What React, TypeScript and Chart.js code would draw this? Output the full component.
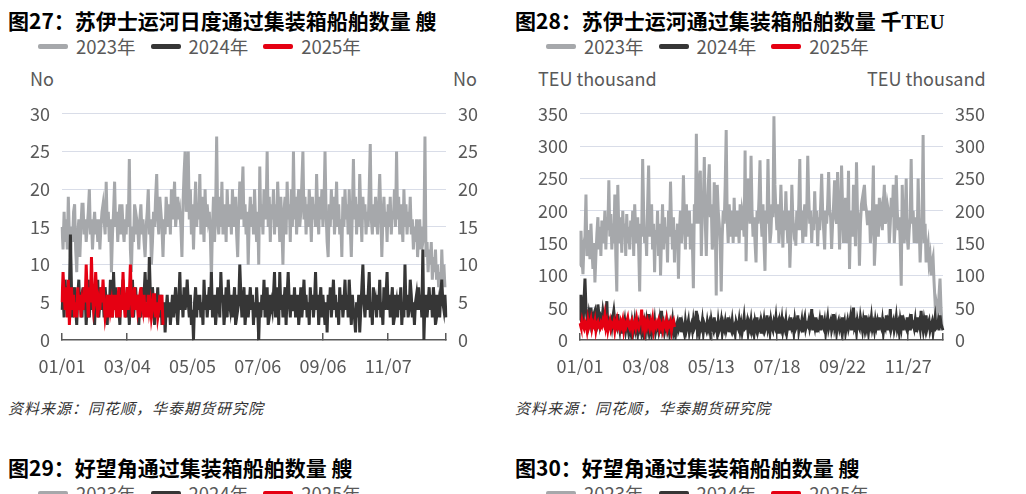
import { useEffect, useRef } from "react"
import { Chart, registerables } from "chart.js"

Chart.register(...registerables)

const FONT = "'Noto Sans CJK SC', 'Noto Sans', sans-serif"
const TEXT = "#595959"
const GRID = "#d9dde8"
const GRAY = "#a6a8ab"
const DARK = "#363636"
const RED = "#e50012"

const DAYS = 366
const dayIndex = Array.from({ length: DAYS }, (_, i) => i)

// 图27 苏伊士运河日度通过集装箱船舶数量（艘）
const shipTicks = ["01/01", "03/04", "05/05", "07/06", "09/06", "11/07"]
const SHIP_TICK_STEP = 62

const ships2023 = [
  15, 12, 17, 13, 16, 12, 19, 14, 11, 15, 13, 17, 18, 12, 9, 14, 16, 11, 15, 18,
  18, 14, 16, 13, 15, 17, 20, 14, 16, 12, 15, 17, 14, 16, 13, 16, 12, 15, 17, 18,
  16, 14, 21, 15, 17, 13, 16, 9, 14, 17, 21, 15, 17, 13, 16, 18, 14, 18, 15, 13,
  16, 14, 18, 15, 24, 12, 9, 15, 13, 18, 14, 16, 15, 12, 16, 18, 14, 16, 13, 11,
  15, 17, 20, 14, 16, 10, 13, 17, 15, 19, 22, 16, 14, 19, 17, 15, 11, 16, 14, 19,
  17, 15, 18, 14, 20, 16, 18, 21, 15, 17, 19, 16, 17, 15, 11, 18, 22, 25, 17, 19,
  25, 16, 20, 14, 18, 12, 17, 21, 15, 18, 16, 22, 14, 19, 17, 13, 20, 15, 18, 16,
  17, 14, 8, 15, 19, 13, 17, 27, 16, 14, 19, 15, 21, 14, 17, 18, 13, 20, 16, 15,
  18, 14, 20, 16, 15, 19, 14, 11, 17, 21, 16, 19, 23, 15, 18, 14, 17, 10, 16, 19,
  15, 18, 14, 20, 16, 13, 17, 10, 23, 15, 18, 14, 20, 16, 17, 25, 15, 19, 13, 18,
  16, 20, 14, 18, 15, 21, 17, 13, 19, 15, 10, 17, 19, 14, 21, 16, 18, 13, 20, 15,
  25, 16, 19, 14, 18, 20, 15, 17, 21, 25, 16, 19, 14, 18, 15, 20, 17, 13, 19, 16,
  18, 15, 22, 17, 14, 19, 16, 20, 15, 18, 25, 17, 13, 11, 18, 15, 20, 16, 19, 14,
  17, 21, 15, 18, 14, 16, 11, 19, 15, 20, 16, 18, 14, 20, 15, 11, 17, 24, 16, 19,
  14, 18, 15, 22, 17, 13, 19, 16, 18, 14, 17, 15, 20, 26, 16, 14, 18, 15, 19, 16,
  14, 18, 22, 17, 11, 16, 19, 15, 17, 13, 18, 15, 19, 14, 17, 16, 20, 15, 25, 16,
  19, 14, 18, 16, 13, 20, 15, 18, 14, 17, 15, 19, 14, 16, 12, 15, 13, 16, 11, 14,
  16, 12, 15, 13, 14, 27, 11, 13, 9, 12, 10, 13, 8, 11, 9, 12, 8, 10, 7, 9,
  6, 12, 8, 10, 7,
]

const ships2024 = [
  4, 6, 3, 8, 5, 7, 4, 6, 14, 7, 3, 5, 7, 4, 2, 6, 8, 4, 5, 3,
  7, 4, 6, 2, 5, 8, 3, 6, 4, 7, 5, 2, 6, 4, 8, 3, 5, 7, 4, 6,
  3, 7, 5, 2, 6, 4, 8, 5, 3, 9, 5, 7, 3, 6, 4, 2, 7, 5, 8, 4,
  6, 3, 7, 5, 2, 6, 4, 8, 3, 5, 7, 4, 6, 2, 5, 3, 7, 4, 6, 9,
  5, 8, 4, 11, 6, 3, 7, 5, 2, 6, 4, 7, 3, 5, 6, 2, 4, 5, 1, 4,
  6, 3, 5, 2, 4, 6, 3, 5, 7, 4, 2, 5, 9, 4, 6, 3, 7, 4, 5, 8,
  5, 3, 6, 2, 4, 0, 5, 7, 3, 6, 4, 6, 3, 5, 2, 8, 4, 6, 3, 5,
  7, 4, 9, 3, 5, 6, 2, 4, 7, 5, 3, 9, 5, 6, 2, 4, 7, 3, 8, 5,
  4, 6, 3, 5, 7, 2, 6, 4, 5, 10, 6, 3, 5, 7, 2, 4, 6, 3, 5, 7,
  4, 6, 2, 5, 3, 7, 4, 0, 5, 3, 6, 4, 8, 3, 5, 7, 2, 6, 4, 5,
  4, 6, 9, 3, 5, 7, 2, 9, 4, 6, 3, 5, 7, 2, 6, 9, 5, 3, 6, 4,
  4, 7, 3, 5, 6, 2, 4, 7, 3, 5, 8, 4, 6, 3, 5, 2, 7, 4, 6, 3,
  5, 9, 4, 6, 2, 5, 7, 3, 6, 4, 2, 5, 1, 6, 4, 7, 3, 5, 8, 4,
  6, 3, 5, 2, 7, 4, 6, 3, 5, 8, 4, 6, 3, 8, 5, 2, 6, 4, 3, 1,
  5, 3, 6, 1, 4, 7, 10, 5, 3, 6, 4, 6, 9, 3, 5, 2, 7, 4, 5, 3,
  6, 4, 8, 3, 5, 2, 7, 4, 6, 9, 4, 6, 3, 5, 7, 2, 6, 4, 5, 3,
  6, 4, 7, 2, 5, 3, 10, 4, 6, 3, 4, 8, 6, 3, 5, 2, 5, 6, 4, 7,
  4, 6, 3, 12, 0, 5, 6, 3, 5, 7, 4, 6, 3, 7, 5, 2, 6, 4, 5, 3,
  6, 8, 5, 4, 6, 3,
]

const ships2025 = [
  5, 9, 6, 4, 7, 3, 8, 2, 5, 7, 4, 6, 3, 5, 3, 7, 4, 6, 3, 5,
  4, 7, 5, 10, 6, 3, 7, 5, 11, 6, 4, 5, 9, 6, 3, 5, 4, 7, 5, 8,
  5, 3, 4, 6, 3, 6, 4, 5, 3, 6, 4, 6, 3, 5, 7, 3, 6, 4, 9, 5,
  3, 5, 7, 4, 6, 10, 5, 3, 6, 7, 4, 6, 4, 5, 3, 7, 5, 4, 6, 3,
  5, 3, 6, 4, 5, 3, 4, 6, 6, 3, 5, 3, 4, 6, 4, 6, 2,
]

// 图28 苏伊士运河通过集装箱船舶数量（千TEU）
const teuTicks = ["01/01", "03/08", "05/13", "07/18", "09/22", "11/27"]
const TEU_TICK_STEP = 66

const teu2023 = [
  115, 169, 125, 102, 150, 160, 225, 130, 145, 170, 125, 180, 140, 110, 150, 89, 130, 165, 190, 140,
  175, 130, 185, 150, 160, 200, 140, 190, 170, 247, 160, 195, 140, 180, 150, 225, 130, 75, 240, 170,
  150, 190, 135, 200, 160, 180, 130, 195, 150, 175, 140, 185, 160, 200, 130, 210, 170, 150, 190, 140,
  75, 180, 160, 280, 200, 150, 170, 130, 210, 270, 160, 190, 210, 140, 180, 105, 170, 150, 200, 130,
  180, 100, 160, 210, 140, 190, 150, 175, 120, 200, 160, 245, 180, 140, 190, 120, 170, 150, 180, 95,
  170, 200, 150, 180, 255, 190, 140, 210, 160, 170, 200, 140, 180, 150, 80, 210, 180, 319, 200, 180,
  250, 262, 130, 200, 210, 283, 180, 130, 200, 240, 272, 190, 210, 140, 160, 244, 180, 69, 240, 200,
  180, 150, 75, 160, 200, 180, 240, 325, 190, 150, 210, 180, 160, 200, 150, 220, 170, 160, 200, 180,
  150, 210, 170, 200, 190, 160, 293, 122, 200, 250, 210, 180, 285, 200, 160, 190, 150, 120, 200, 180,
  220, 278, 190, 160, 210, 150, 107, 200, 180, 280, 200, 150, 166, 210, 190, 346, 240, 200, 170, 210,
  150, 180, 240, 190, 143, 200, 170, 230, 180, 150, 200, 112, 160, 240, 190, 170, 180, 146, 200, 170,
  210, 280, 170, 200, 150, 190, 210, 160, 200, 285, 220, 180, 200, 150, 190, 170, 230, 180, 200, 145,
  190, 170, 210, 257, 200, 170, 140, 200, 180, 210, 260, 200, 190, 141, 180, 210, 247, 190, 180, 260,
  200, 140, 190, 270, 210, 150, 190, 220, 150, 180, 262, 110, 180, 200, 160, 240, 190, 145, 275, 200,
  190, 115, 180, 210, 220, 200, 240, 210, 200, 180, 180, 200, 150, 170, 200, 270, 115, 150, 210, 180,
  160, 220, 190, 200, 170, 210, 240, 180, 190, 210, 200, 150, 180, 220, 190, 240, 150, 180, 255, 200,
  170, 190, 150, 84, 240, 180, 150, 190, 250, 160, 140, 170, 190, 280, 180, 200, 150, 190, 170, 150,
  250, 180, 120, 160, 190, 317, 150, 180, 120, 140, 150, 120, 130, 100, 120, 128, 90, 60, 20, 50,
  40, 70, 95, 50, 20,
]

const teu2024 = [
  30, 70, 45, 20, 60, 95, 50, 35, 25, 40, 30, 50, 35, 20, 40, 45, 30, 25, 55, 40,
  25, 35, 30, 45, 35, 20, 40, 60, 15, 30, 25, 30, 20, 35, 45, 30, 25, 20, 40, 25,
  15, 30, 10, 25, 20, 30, 15, 25, 20, 10, 20, 12, 25, 8, 18, 30, 15, 22, 10, 25,
  18, 28, 12, 20, 8, 25, 15, 30, 20, 40, 15, 25, 10, 22, 18, 30, 12, 20, 25, 15,
  28, 10, 45, 18, 25, 12, 20, 30, 15, 22, 10, 25, 18, 30, 12, 20, 8, 22, 28, 15,
  20, 35, 12, 25, 18, 10, 28, 15, 22, 30, 12, 20, 25, 15, 30, 18, 22, 45, 15, 25,
  10, 22, 18, 30, 12, 25, 20, 15, 28, 18, 25, 12, 30, 20, 15, 35, 18, 22, 10, 28,
  15, 20, 30, 12, 25, 18, 28, 15, 22, 35, 12, 25, 18, 30, 15, 20, 10, 28, 22, 18,
  30, 15, 25, 12, 22, 35, 18, 20, 28, 12, 25, 18, 30, 15, 22, 10, 28, 20, 35, 15,
  22, 28, 12, 25, 18, 30, 15, 20, 38, 18, 25, 12, 30, 20, 15, 28, 22, 35, 18, 25,
  10, 28, 20, 32, 15, 25, 18, 30, 12, 22, 28, 15, 35, 20, 25, 12, 30, 18, 22, 38,
  15, 25, 20, 30, 12, 28, 35, 18, 25, 22, 30, 18, 25, 48, 15, 28, 20, 35, 12, 25,
  20, 30, 15, 38, 22, 18, 28, 12, 25, 35, 18, 25, 30, 15, 22, 40, 20, 28, 12, 25,
  30, 18, 25, 15, 35, 20, 28, 12, 22, 30, 18, 25, 35, 15, 28, 50, 20, 25, 12, 30,
  22, 18, 35, 25, 15, 30, 20, 38, 18, 25, 12, 28, 22, 35, 18, 25, 15, 30, 20, 28,
  15, 35, 22, 18, 30, 12, 25, 20, 38, 15, 28, 22, 48, 18, 25, 30, 15, 22, 35, 18,
  25, 12, 30, 20, 38, 15, 28, 22, 18, 35, 20, 28, 15, 40, 22, 25, 18, 30, 12, 35,
  22, 28, 18, 45, 25, 15, 30, 20, 38, 18, 25, 30, 15, 22, 28, 12, 25, 35, 18, 20,
  28, 15, 38, 25, 20, 15,
]

const teu2025 = [
  26, 20, 30, 22, 18, 28, 24, 15, 30, 20, 25, 32, 18, 26, 22, 30, 15, 24, 28, 20,
  18, 26, 22, 30, 25, 37, 20, 28, 15, 24, 30, 18, 25, 22, 28, 15, 26, 32, 20, 24,
  18, 28, 22, 30, 15, 25, 20, 28, 34, 22, 18, 26, 30, 15, 24, 28, 20, 32, 22, 18,
  25, 30, 47, 22, 28, 15, 26, 20, 30, 24, 18, 28, 22, 32, 15, 25, 28, 20, 24, 30,
  18, 26, 22, 15, 28, 24, 20, 30, 18, 25, 22, 28, 15, 26, 30, 20,
]

const seriesNames = ["2023年", "2024年", "2025年"]
const seriesColors = [GRAY, DARK, RED]

type PanelProps = {
  left: number
  top: number
  width: number
  height: number
  leftAxis: number
  rightAxis: number
  max: number
  step: number
  tickLabels: string[]
  tickStep: number
  series: number[][]
}

function DailyChart(p: PanelProps) {
  const chartRef = useRef<HTMLCanvasElement>(null)
  const chartInstance = useRef<Chart | null>(null)

  useEffect(() => {
    if (!chartRef.current) return
    const ctx = chartRef.current.getContext("2d")
    if (!ctx) return
    if (chartInstance.current) chartInstance.current.destroy()

    const isTick = (i: number) =>
      (i % p.tickStep === 0 && i / p.tickStep < p.tickLabels.length) || i === DAYS - 1
    const tickFont = { family: FONT, size: 18 }

    // drawn last = on top, so 2025 goes first
    const datasets = [2, 1, 0].map((k) => ({
      label: seriesNames[k],
      data: p.series[k],
      borderColor: seriesColors[k],
      backgroundColor: seriesColors[k],
      borderWidth: 3,
      pointRadius: 0,
      tension: 0,
      yAxisID: "y",
    }))

    chartInstance.current = new Chart(ctx, {
      type: "line",
      data: { labels: dayIndex, datasets },
      options: {
        animation: false,
        responsive: true,
        maintainAspectRatio: false,
        layout: { padding: 0 },
        plugins: { legend: { display: false }, tooltip: { enabled: false } },
        scales: {
          x: {
            type: "category",
            ticks: {
              autoSkip: false,
              maxRotation: 0,
              minRotation: 0,
              padding: 22,
              color: TEXT,
              font: tickFont,
              callback: (_v: any, i: number) =>
                i % p.tickStep === 0 ? p.tickLabels[i / p.tickStep] ?? "" : "",
            },
            grid: {
              drawOnChartArea: false,
              drawTicks: true,
              tickLength: -7,
              lineWidth: 1.5,
              color: (c: any) => (isTick(c.index) ? TEXT : "transparent"),
            },
            border: { display: true, color: TEXT, width: 1.5 },
            afterFit: (s: any) => {
              s.height = 35
            },
          },
          y: {
            position: "left",
            min: 0,
            max: p.max,
            ticks: { stepSize: p.step, padding: 12, color: TEXT, font: tickFont },
            grid: {
              drawTicks: false,
              lineWidth: 1,
              color: (c: any) => (c.tick && c.tick.value === 0 ? "transparent" : GRID),
            },
            border: { display: false },
            afterFit: (s: any) => {
              s.width = p.leftAxis
            },
          },
          y1: {
            position: "right",
            min: 0,
            max: p.max,
            ticks: { stepSize: p.step, padding: 12, color: TEXT, font: tickFont },
            grid: { display: false, drawTicks: false },
            border: { display: false },
            afterFit: (s: any) => {
              s.width = p.rightAxis
            },
          },
        },
      },
    })

    return () => {
      if (chartInstance.current) {
        chartInstance.current.destroy()
        chartInstance.current = null
      }
    }
  }, [])

  return (
    <div style={{ position: "absolute", left: p.left, top: p.top, width: p.width, height: p.height }}>
      <canvas ref={chartRef}></canvas>
    </div>
  )
}

function Legend({ left, top }: { left: number; top: number }) {
  return (
    <div style={{ position: "absolute", left, top, display: "flex", alignItems: "center", height: 20 }}>
      {seriesNames.map((name, k) => (
        <div key={name} style={{ display: "flex", alignItems: "center", marginRight: k < 2 ? 15 : 0 }}>
          <span
            style={{
              display: "inline-block",
              width: 30,
              height: 5,
              borderRadius: 2,
              background: seriesColors[k],
              marginRight: 8,
            }}
          />
          <span style={{ fontSize: 18.5, color: TEXT, lineHeight: "20px" }}>{name}</span>
        </div>
      ))}
    </div>
  )
}

const titleStyle = {
  position: "absolute" as const,
  fontSize: 21,
  fontWeight: 700,
  color: "#000",
  lineHeight: "22px",
  whiteSpace: "nowrap" as const,
}

const unitStyle = {
  position: "absolute" as const,
  fontSize: 18,
  color: TEXT,
  lineHeight: "20px",
  whiteSpace: "nowrap" as const,
}

const sourceStyle = {
  position: "absolute" as const,
  fontSize: 15,
  fontStyle: "italic" as const,
  color: "#333",
  letterSpacing: 1,
  lineHeight: "16px",
  whiteSpace: "nowrap" as const,
}

export default function App() {
  return (
    <div
      style={{
        position: "fixed",
        left: 0,
        top: 0,
        width: 1026,
        height: 494,
        overflow: "hidden",
        background: "#fff",
        fontFamily: FONT,
      }}
    >
      <div style={{ ...titleStyle, left: 8, top: 9 }}>图27：苏伊士运河日度通过集装箱船舶数量 艘</div>
      <Legend left={38} top={36} />
      <div style={{ ...unitStyle, left: 30, top: 68 }}>No</div>
      <div style={{ ...unitStyle, left: 453, top: 68 }}>No</div>
      <DailyChart
        left={0}
        top={91}
        width={510}
        height={284}
        leftAxis={62}
        rightAxis={64}
        max={30}
        step={5}
        tickLabels={shipTicks}
        tickStep={SHIP_TICK_STEP}
        series={[ships2023, ships2024, ships2025]}
      />
      <div style={{ ...sourceStyle, left: 8, top: 400 }}>资料来源：同花顺，华泰期货研究院</div>

      <div style={{ ...titleStyle, left: 515, top: 9 }}>
        图28：苏伊士运河通过集装箱船舶数量 千<span style={{ fontFamily: "'Liberation Serif', serif" }}>TEU</span>
      </div>
      <Legend left={546} top={36} />
      <div style={{ ...unitStyle, left: 538, top: 68 }}>TEU thousand</div>
      <div style={{ ...unitStyle, left: 867, top: 68 }}>TEU thousand</div>
      <DailyChart
        left={510}
        top={91}
        width={500}
        height={284}
        leftAxis={70}
        rightAxis={67}
        max={350}
        step={50}
        tickLabels={teuTicks}
        tickStep={TEU_TICK_STEP}
        series={[teu2023, teu2024, teu2025]}
      />
      <div style={{ ...sourceStyle, left: 515, top: 400 }}>资料来源：同花顺，华泰期货研究院</div>

      <div style={{ ...titleStyle, left: 8, top: 456 }}>图29：好望角通过集装箱船舶数量 艘</div>
      <Legend left={38} top={483} />
      <div style={{ ...titleStyle, left: 515, top: 456 }}>图30：好望角通过集装箱船舶数量 艘</div>
      <Legend left={546} top={483} />
    </div>
  )
}
